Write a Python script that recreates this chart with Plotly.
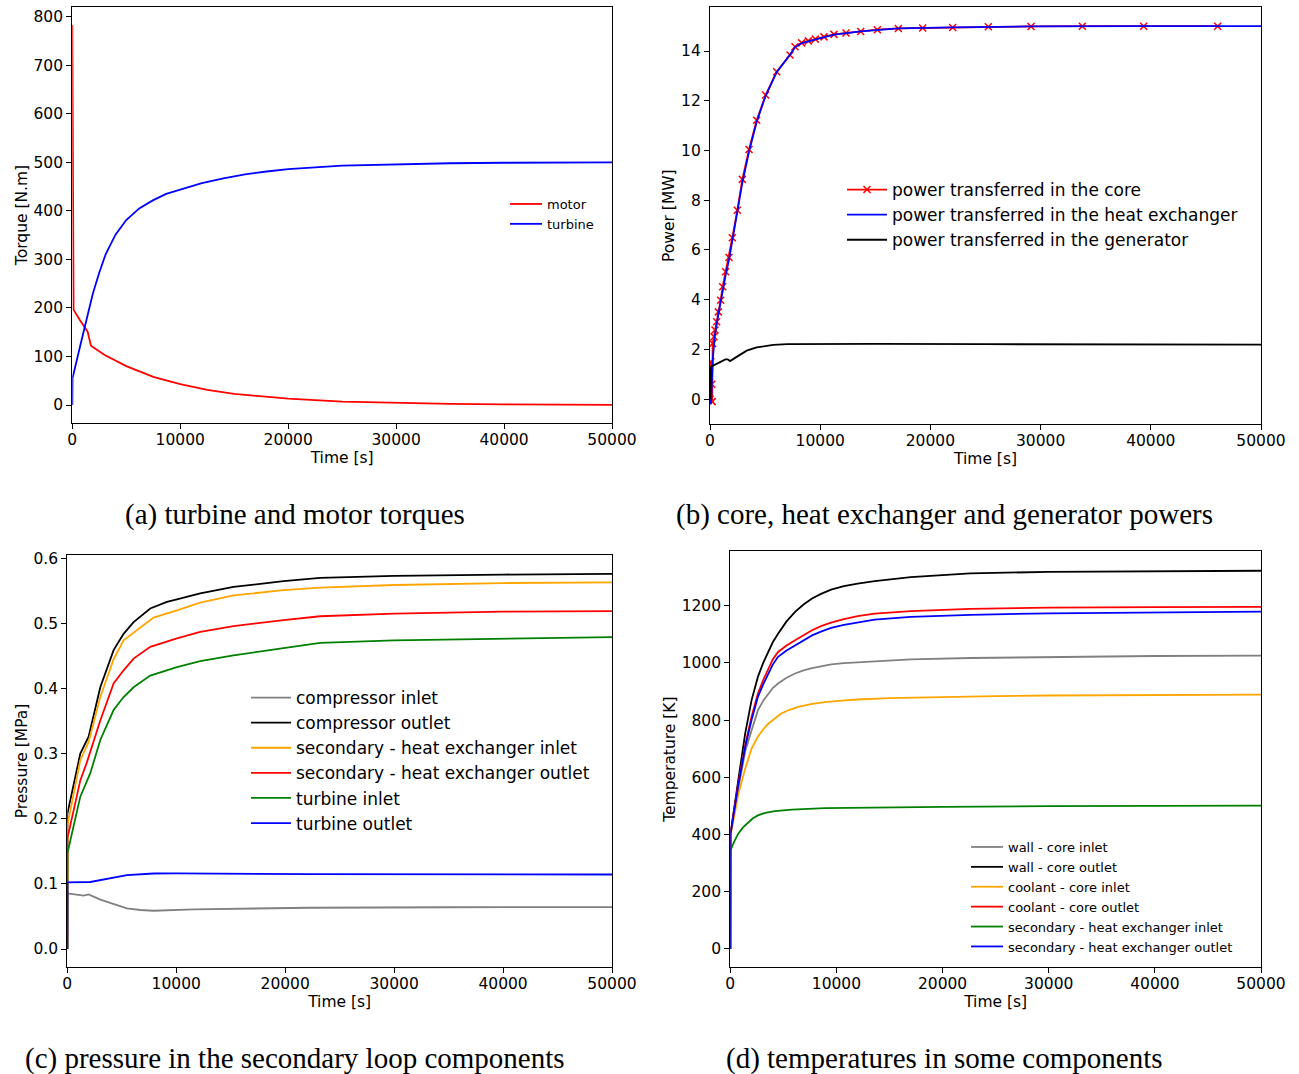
import plotly.graph_objects as go

# ---------------- (a) torques ----------------
t_motor = [0, 60, 120, 700, 1420, 1730, 3000, 5000, 7500, 10000, 12500, 15000, 20000, 25000, 30000, 35000, 40000, 45000, 50000]
motor = [783, 450, 196, 175, 151, 122, 103, 80, 58, 43, 31, 23, 13, 7, 4, 2.2, 1.2, 0.7, 0.4]
t_turb = [0, 20, 700, 1300, 1900, 2500, 3100, 4000, 5000, 6200, 7500, 8700, 10000, 12000, 14000, 16000, 18000, 20000, 25000, 30000, 35000, 40000, 45000, 50000]
turbine = [0, 55, 119, 174, 229, 273, 311, 351, 381, 405, 422, 435, 444, 457, 467, 475, 481, 486, 493, 496, 498, 499, 499.5, 500]

# ---------------- (b) powers ----------------
t_core = [0, 80, 160, 200, 242, 363, 454, 605, 756, 968, 1150, 1424, 1724, 2027, 2480, 2934, 3540, 4235, 5050,
          6050, 7260, 7713, 8320, 8920, 9555, 10345, 11250, 12341, 13675, 15185, 17090, 19300, 22020, 25255,
          29130, 33785, 39355, 46070]
p_core = [0, 1.5, 0.6, -0.1, 2.24, 2.51, 2.78, 3.11, 3.51, 3.98, 4.52, 5.12, 5.7, 6.49, 7.6, 8.84, 10.04, 11.22, 12.23,
          13.17, 13.84, 14.17, 14.33, 14.41, 14.48, 14.57, 14.67, 14.73, 14.79, 14.86, 14.91, 14.93, 14.95, 14.98,
          14.99, 15.0, 15.0, 15.0]
t_hx = [0, 90, 250, 454, 756, 1150, 1424, 1724, 2027, 2480, 2934, 3540, 4235, 5050, 6050, 7260, 7713, 8320, 9555,
        11250, 13675, 17090, 22020, 29130, 39355, 50000]
p_hx = [0, -0.2, 1.6, 2.6, 3.4, 4.4, 5.0, 5.6, 6.35, 7.45, 8.7, 9.95, 11.15, 12.2, 13.15, 13.85, 14.15, 14.32, 14.47,
        14.66, 14.79, 14.91, 14.95, 14.99, 15.0, 15.0]
t_gen = [0, 100, 600, 1000, 1400, 1600, 1815, 2420, 3330, 4235, 5000, 5745, 7000, 9000, 15000, 25000, 35000, 50000]
p_gen = [0, 1.3, 1.42, 1.5, 1.6, 1.6, 1.53, 1.7, 1.95, 2.08, 2.14, 2.18, 2.21, 2.22, 2.22, 2.21, 2.2, 2.19]

# ---------------- (c) pressures ----------------
t_p_comp_in = [0, 10, 1498, 1957, 3028, 4200, 5474, 6700, 7918, 11588, 22294, 35000, 50000]
p_comp_in = [0, 0.0855, 0.082, 0.084, 0.076, 0.069, 0.0624, 0.060, 0.0588, 0.061, 0.0634, 0.0642, 0.0644]
t_p_comp_out = [0, 10, 1193, 1957, 3028, 4250, 5168, 6085, 7615, 9145, 10063, 12200, 15260, 19850, 23210, 30000, 40000, 50000]
p_comp_out = [0, 0.208, 0.300, 0.326, 0.402, 0.459, 0.484, 0.502, 0.523, 0.533, 0.537, 0.546, 0.556, 0.565, 0.570, 0.573, 0.575, 0.576]
t_p_hx_in = [0, 10, 1193, 1957, 3028, 4250, 5168, 6697, 7918, 10063, 12200, 15260, 19850, 23210, 30000, 40000, 50000]
p_hx_in = [0, 0.19, 0.29, 0.318, 0.387, 0.445, 0.474, 0.494, 0.509, 0.520, 0.532, 0.543, 0.551, 0.555, 0.559, 0.562, 0.563]
t_p_hx_out = [0, 10, 1193, 1805, 3028, 4250, 5168, 6085, 7615, 10063, 12200, 15260, 19850, 23210, 30000, 40000, 50000]
p_hx_out = [0, 0.17, 0.259, 0.287, 0.351, 0.408, 0.428, 0.446, 0.464, 0.477, 0.487, 0.496, 0.505, 0.511, 0.515, 0.518, 0.519]
t_p_turb_in = [0, 10, 1193, 2110, 3028, 4250, 5168, 6085, 7615, 10063, 12200, 15260, 19850, 23210, 30000, 40000, 50000]
p_turb_in = [0, 0.147, 0.234, 0.27, 0.321, 0.367, 0.387, 0.402, 0.420, 0.433, 0.442, 0.451, 0.462, 0.470, 0.474, 0.477, 0.479]
t_p_turb_out = [0, 10, 2110, 3500, 5474, 7918, 10000, 22294, 35000, 50000]
p_turb_out = [0, 0.1023, 0.103, 0.107, 0.1136, 0.116, 0.1162, 0.115, 0.1148, 0.1145]

# ---------------- (d) temperatures ----------------
t_temp = [0, 10, 750, 1400, 2000, 2600, 3100, 3600, 4000, 4500, 5300, 6100, 6900, 7700, 8600, 9500, 10700, 12000,
          13600, 17000, 22600, 30000, 40000, 50000]
T_wall_in = [0, 400, 560, 690, 764, 834, 868, 893, 912, 928, 948, 963, 974, 982, 989, 995, 999, 1002,
             1006, 1012, 1017, 1021, 1024, 1025]
T_wall_out = [0, 400, 590, 753, 869, 951, 1000, 1038, 1072, 1102, 1145, 1178, 1204, 1225, 1242, 1256, 1268, 1277,
              1286, 1300, 1313, 1318, 1321, 1322]
T_cool_out = [0, 400, 578, 712, 812, 893, 940, 980, 1012, 1038, 1061, 1079, 1098, 1114, 1129, 1141, 1153, 1163,
              1172, 1181, 1189, 1193, 1195, 1196]
T_sec_out = [0, 400, 572, 705, 800, 881, 925, 963, 994, 1021, 1043, 1061, 1080, 1096, 1110, 1122, 1133, 1142,
             1151, 1161, 1168, 1173, 1177, 1179]
t_cool_in = [0, 10, 400, 750, 1400, 2000, 2600, 3100, 3600, 4200, 4800, 5600, 6400, 7600, 8900, 10500, 12000, 15000,
             20000, 25000, 30000, 40000, 50000]
T_cool_in = [0, 395, 470, 540, 630, 700, 742, 768, 788, 807, 823, 836, 846, 856, 863, 868, 872, 877,
             881, 884, 886, 888, 889]
t_sec_in = [0, 10, 400, 750, 1200, 1700, 2100, 2600, 3300, 4200, 5800, 8900, 13600, 20000, 30000, 40000, 50000]
T_sec_in = [0, 345, 378, 403, 425, 444, 456, 467, 476, 482, 487, 492, 495, 497, 499, 500, 501]

W, H = 1299, 1074
LW = 1.8
TICKFONT = dict(family="DejaVu Sans", size=15.5, color="black")

fig = go.Figure()

def add(x, y, name, color, xa, ya, legend, mode="lines", marker=None):
    tr = go.Scatter(x=x, y=y, name=name, mode=mode, line=dict(color=color, width=LW),
                    xaxis=xa, yaxis=ya, legend=legend)
    if marker:
        tr.marker = marker
    fig.add_trace(tr)

# (a)
add(t_motor, motor, "motor", "red", "x", "y", "legend")
add(t_turb, turbine, "turbine", "blue", "x", "y", "legend")
# (b)
add(t_core, p_core, "power transferred in the core", "red", "x2", "y2", "legend2", mode="lines+markers",
    marker=dict(symbol="x-thin", size=7, line=dict(color="red", width=1.5), color="red"))
add(t_hx, p_hx, "power transferred in the heat exchanger", "blue", "x2", "y2", "legend2")
add(t_gen, p_gen, "power transferred in the generator", "black", "x2", "y2", "legend2")
# (c)
add(t_p_comp_in, p_comp_in, "compressor inlet", "gray", "x3", "y3", "legend3")
add(t_p_comp_out, p_comp_out, "compressor outlet", "black", "x3", "y3", "legend3")
add(t_p_hx_in, p_hx_in, "secondary - heat exchanger inlet", "orange", "x3", "y3", "legend3")
add(t_p_hx_out, p_hx_out, "secondary - heat exchanger outlet", "red", "x3", "y3", "legend3")
add(t_p_turb_in, p_turb_in, "turbine inlet", "green", "x3", "y3", "legend3")
add(t_p_turb_out, p_turb_out, "turbine outlet", "blue", "x3", "y3", "legend3")
# (d)
add(t_temp, T_wall_in, "wall - core inlet", "gray", "x4", "y4", "legend4")
add(t_temp, T_wall_out, "wall - core outlet", "black", "x4", "y4", "legend4")
add(t_cool_in, T_cool_in, "coolant - core inlet", "orange", "x4", "y4", "legend4")
add(t_temp, T_cool_out, "coolant - core outlet", "red", "x4", "y4", "legend4")
add(t_sec_in, T_sec_in, "secondary - heat exchanger inlet", "green", "x4", "y4", "legend4")
add(t_temp, T_sec_out, "secondary - heat exchanger outlet", "blue", "x4", "y4", "legend4")

def px_x(p):
    return p / W

def px_y(p):
    return 1 - p / H

def xax(dom, anchor):
    return dict(domain=[px_x(dom[0]), px_x(dom[1])], anchor=anchor, range=[0, 50000], tickvals=[0, 10000, 20000, 30000, 40000, 50000],
                tickformat="d", ticks="outside", ticklen=5, tickwidth=1, tickcolor="black", automargin=False,
                ticklabelstandoff=-3,
                showline=True, linecolor="black", linewidth=1.2, mirror=True, showgrid=False, zeroline=False,
                tickfont=TICKFONT, title=dict(text="Time [s]", font=TICKFONT, standoff=1))

def yax(dom, anchor, rng, vals, title, fmt=None):
    d = dict(domain=[px_y(dom[1]), px_y(dom[0])], anchor=anchor, range=rng, tickvals=vals,
             ticks="outside", ticklen=5, tickwidth=1, tickcolor="black", automargin=False,
             showline=True, linecolor="black", linewidth=1.2, mirror=True, showgrid=False, zeroline=False,
             tickfont=TICKFONT, title=dict(text=title, font=TICKFONT, standoff=2))
    if fmt:
        d["tickformat"] = fmt
    return d

fig.update_layout(
    width=W, height=H, margin=dict(l=0, r=0, t=0, b=0, autoexpand=False),
    paper_bgcolor="white", plot_bgcolor="white",
    xaxis=xax((72.3, 612), "y"),
    yaxis=yax((6.7, 423.3), "x", [-37.7, 820.5], [0, 100, 200, 300, 400, 500, 600, 700, 800], "Torque [N.m]"),
    xaxis2=xax((710, 1261), "y2"),
    yaxis2=yax((7.3, 424), "x2", [-1.0, 15.76], [0, 2, 4, 6, 8, 10, 12, 14], "Power [MW]"),
    xaxis3=xax((67.3, 612), "y3"),
    yaxis3=yax((554.7, 967.3), "x3", [-0.028, 0.6055], [0, 0.1, 0.2, 0.3, 0.4, 0.5, 0.6], "Pressure [MPa]", ".1f"),
    xaxis4=xax((730.3, 1261), "y4"),
    yaxis4=yax((551, 967.3), "x4", [-64, 1391], [0, 200, 400, 600, 800, 1000, 1200], "Temperature [K]"),
    legend=dict(x=px_x(505), y=px_y(189), xanchor="left", yanchor="top", bgcolor="rgba(0,0,0,0)",
                font=dict(family="DejaVu Sans", size=13, color="black"), tracegroupgap=0, itemwidth=32),
    legend2=dict(x=px_x(842), y=px_y(172), xanchor="left", yanchor="top", bgcolor="rgba(0,0,0,0)",
                 font=dict(family="DejaVu Sans", size=17, color="black"), tracegroupgap=0, itemwidth=40),
    legend3=dict(x=px_x(246), y=px_y(680), xanchor="left", yanchor="top", bgcolor="rgba(0,0,0,0)",
                 font=dict(family="DejaVu Sans", size=17, color="black"), tracegroupgap=0, itemwidth=40),
    legend4=dict(x=px_x(966), y=px_y(832), xanchor="left", yanchor="top", bgcolor="rgba(0,0,0,0)",
                 font=dict(family="DejaVu Sans", size=13, color="black"), tracegroupgap=0, itemwidth=32),
    showlegend=True,
)

captions = [
    ("(a) turbine and motor torques", 295, 514),
    ("(b) core, heat exchanger and generator powers", 944, 514),
    ("(c) pressure in the secondary loop components", 295, 1058),
    ("(d) temperatures in some components", 944, 1058),
]
for text, cx, cy in captions:
    fig.add_annotation(text=text, x=px_x(cx), y=px_y(cy), xref="paper", yref="paper",
                       xanchor="center", yanchor="middle", showarrow=False,
                       font=dict(family="Liberation Serif", size=29, color="black"))

fig.write_html("out.html")
